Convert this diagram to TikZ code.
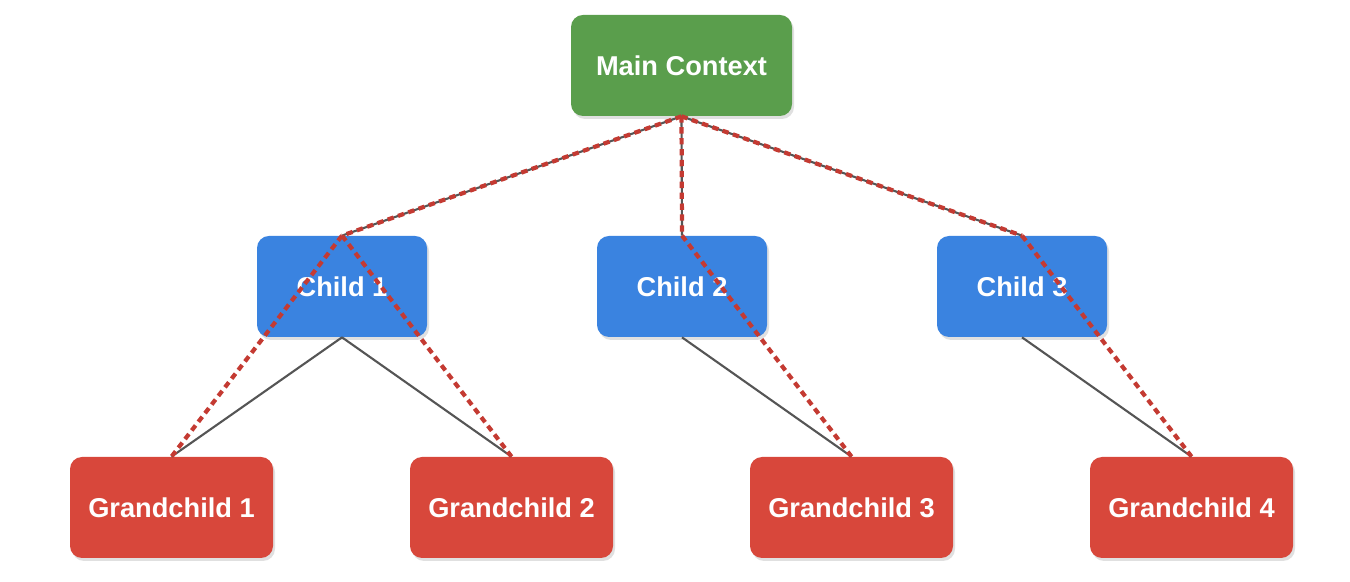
\documentclass[tikz,border=0pt]{standalone}
\usepackage{fontspec}
\setmainfont{Liberation Sans}
\usetikzlibrary{shadows}
\definecolor{maingreen}{HTML}{5A9E4C}
\definecolor{childblue}{HTML}{3A83E0}
\definecolor{gcred}{HTML}{D8473B}
\definecolor{linkgray}{HTML}{555555}
\definecolor{dashred}{HTML}{C43A32}
\tikzset{
  box/.style={rectangle, rounded corners=0.24cm, minimum height=2.02cm, text=white,
    font=\fontsize{15.5}{18}\selectfont\bfseries,
    drop shadow={shadow xshift=0.04cm, shadow yshift=-0.06cm, fill=black, opacity=0.12}},
  link/.style={linkgray, line width=1.2pt},
  trace/.style={dashred, line width=2.4pt, dash pattern=on 3.6pt off 2.6pt}
}
\begin{document}
\begin{tikzpicture}
\useasboundingbox (0,0) rectangle (27,11.64);

\node[box, fill=maingreen, minimum width=4.42cm] (main) at (13.63,10.33) {Main Context};

\node[box, fill=childblue, minimum width=3.4cm] (c1) at (6.84,5.91) {Child 1};
\node[box, fill=childblue, minimum width=3.4cm] (c2) at (13.64,5.91) {Child 2};
\node[box, fill=childblue, minimum width=3.4cm] (c3) at (20.44,5.91) {Child 3};

\node[box, fill=gcred, minimum width=4.06cm] (g1) at (3.43,1.49) {Grandchild 1};
\node[box, fill=gcred, minimum width=4.06cm] (g2) at (10.23,1.49) {Grandchild 2};
\node[box, fill=gcred, minimum width=4.06cm] (g3) at (17.03,1.49) {Grandchild 3};
\node[box, fill=gcred, minimum width=4.06cm] (g4) at (23.83,1.49) {Grandchild 4};

% tree links
\foreach \c in {c1,c2,c3}
  \draw[link] (main.south) -- (\c.north);
\draw[link] (c1.south) -- (g1.north);
\draw[link] (c1.south) -- (g2.north);
\draw[link] (c2.south) -- (g3.north);
\draw[link] (c3.south) -- (g4.north);

% dashed trace
\foreach \c in {c1,c2,c3}
  \draw[trace] (main.south) -- (\c.north);
\draw[trace] (c1.north) -- (g1.north);
\draw[trace] (c1.north) -- (g2.north);
\draw[trace] (c2.north) -- (g3.north);
\draw[trace] (c3.north) -- (g4.north);
\end{tikzpicture}
\end{document}
